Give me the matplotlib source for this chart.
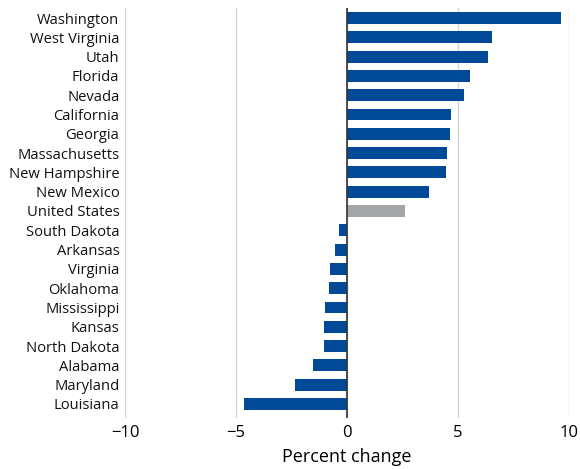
import numpy as np
import matplotlib
matplotlib.use('Agg')
import matplotlib.pyplot as plt

# --- данные --- #
states = ['Washington', 'West Virginia', 'Utah', 'Florida', 'Nevada', 'California',
          'Georgia', 'Massachusetts', 'New Hampshire', 'New Mexico', 'United States',
          'South Dakota', 'Arkansas', 'Virginia', 'Oklahoma', 'Mississippi', 'Kansas',
          'North Dakota', 'Alabama', 'Maryland', 'Louisiana']
pct_change = [9.66, 6.55, 6.37, 5.55, 5.27, 4.70, 4.63, 4.52, 4.45, 3.68, 2.60,
              -0.37, -0.53, -0.78, -0.83, -0.97, -1.03, -1.05, -1.52, -2.34, -4.66]
xticks = [-10, -5, 0, 5, 10]

plt.rcParams['font.family'] = ['Open Sans', 'DejaVu Sans']

colors = ['#a3a5a8' if s == 'United States' else '#004a97' for s in states]
y = np.arange(len(states))

fig = plt.figure(figsize=(5.8, 4.69), dpi=100)
ax = fig.add_axes([0.2155, 0.109, 0.7655, 0.874])

ax.barh(y, pct_change, height=0.62, color=colors, zorder=3)
ax.axvline(0, color='#333333', lw=1.2, zorder=4)

ax.set_xlim(-10, 10)
ax.set_ylim(len(states) - 1 + 0.72, -0.52)
ax.set_xticks(xticks)
ax.set_xticklabels(['\u2212' + str(-t) if t < 0 else str(t) for t in xticks], fontsize=12)
ax.set_yticks(y)
ax.set_yticklabels(states, fontsize=10.6, color='#111111')
ax.tick_params(length=0, pad=4)
ax.tick_params(axis='x', pad=5)
ax.grid(axis='x', color='#d5d5d5', lw=1, zorder=0)
for sp in ax.spines.values():
    sp.set_visible(False)
ax.set_xlabel('Percent change', fontsize=13, labelpad=5)

fig.savefig('out.png', dpi=100)
